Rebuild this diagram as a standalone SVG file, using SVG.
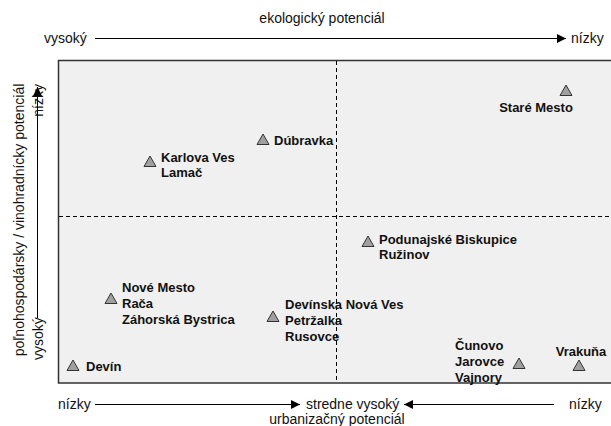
<svg xmlns="http://www.w3.org/2000/svg" width="611" height="426" viewBox="0 0 611 426">
<defs>
<marker id="ah" viewBox="0 0 10 10" refX="10" refY="5" markerWidth="12" markerHeight="9" markerUnits="userSpaceOnUse" orient="auto"><path d="M0,0 L10,5 L0,10 Z" fill="#000"/></marker>
<polygon id="tri" points="0,-6 6,4.5 -6,4.5"/>
</defs>
<style>
.ax{font-family:"Liberation Sans",Arial,sans-serif;font-size:14px;fill:#111}
.lb{font-family:"Liberation Sans",Arial,sans-serif;font-size:13px;font-weight:bold;fill:#111}
.ln{stroke:#000;stroke-width:1;fill:none}
.dash{stroke:#000;stroke-width:1;stroke-dasharray:4,3;fill:none}
.t{fill:#a0a0a0;stroke:#333;stroke-width:1}
</style>
<rect width="611" height="426" fill="#fff"/>
<rect x="58.5" y="60.5" width="560" height="322.5" fill="#f0f0f0" stroke="#333" stroke-width="1.5"/>
<g id="grid">
<line class="dash" x1="336.5" y1="61" x2="336.5" y2="382"/>
<line class="dash" x1="59" y1="216.5" x2="611" y2="216.5"/>
</g>
<g id="connectors">
<line class="ln" x1="95" y1="38.5" x2="566" y2="38.5" marker-end="url(#ah)"/>
<line class="ln" x1="37.5" y1="318" x2="37.5" y2="87" marker-end="url(#ah)"/>
<line class="ln" x1="95" y1="404.5" x2="300" y2="404.5" marker-end="url(#ah)"/>
<line class="ln" x1="554" y1="404.5" x2="404" y2="404.5" marker-end="url(#ah)"/>
</g>
<g id="axes">
<text class="ax" x="322" y="23" text-anchor="middle">ekologický potenciál</text>
<text class="ax" x="44" y="43">vysoký</text>
<text class="ax" x="571" y="43">nízky</text>
<text class="ax" transform="translate(43,360) rotate(-90)">vysoký</text>
<text class="ax" transform="translate(43,84) rotate(-90)" text-anchor="end">nízky</text>
<text class="ax" transform="translate(24,220) rotate(-90)" text-anchor="middle">poľnohospodársky / vinohradnícky potenciál</text>
<text class="ax" x="58" y="409">nízky</text>
<text class="ax" x="306" y="409">stredne vysoký</text>
<text class="ax" x="569" y="409">nízky</text>
<text class="ax" x="337" y="424" text-anchor="middle">urbanizačný potenciál</text>
</g>
<g id="stare-mesto"><use href="#tri" class="t" x="566" y="91"/><text class="lb" x="536" y="112" text-anchor="middle">Staré Mesto</text></g>
<g id="dubravka"><use href="#tri" class="t" x="263" y="140"/><text class="lb" x="274" y="145">Dúbravka</text></g>
<g id="karlova-ves"><use href="#tri" class="t" x="150" y="162"/><text class="lb" x="161" y="162">Karlova Ves</text><text class="lb" x="161" y="177">Lamač</text></g>
<g id="podunajske"><use href="#tri" class="t" x="368" y="242"/><text class="lb" x="379" y="244">Podunajské Biskupice</text><text class="lb" x="379" y="259">Ružinov</text></g>
<g id="nove-mesto"><use href="#tri" class="t" x="111" y="299"/><text class="lb" x="122" y="292">Nové Mesto</text><text class="lb" x="122" y="308">Rača</text><text class="lb" x="122" y="324">Záhorská Bystrica</text></g>
<g id="devinska"><use href="#tri" class="t" x="273" y="317"/><text class="lb" x="285" y="309">Devínska Nová Ves</text><text class="lb" x="285" y="325">Petržalka</text><text class="lb" x="285" y="341">Rusovce</text></g>
<g id="devin"><use href="#tri" class="t" x="73" y="366"/><text class="lb" x="86" y="371">Devín</text></g>
<g id="cunovo"><use href="#tri" class="t" x="519" y="364"/><text class="lb" x="455" y="350">Čunovo</text><text class="lb" x="455" y="366">Jarovce</text><text class="lb" x="455" y="382">Vajnory</text></g>
<g id="vrakuna"><use href="#tri" class="t" x="579" y="366"/><text class="lb" x="581" y="356" text-anchor="middle">Vrakuňa</text></g>
</svg>
